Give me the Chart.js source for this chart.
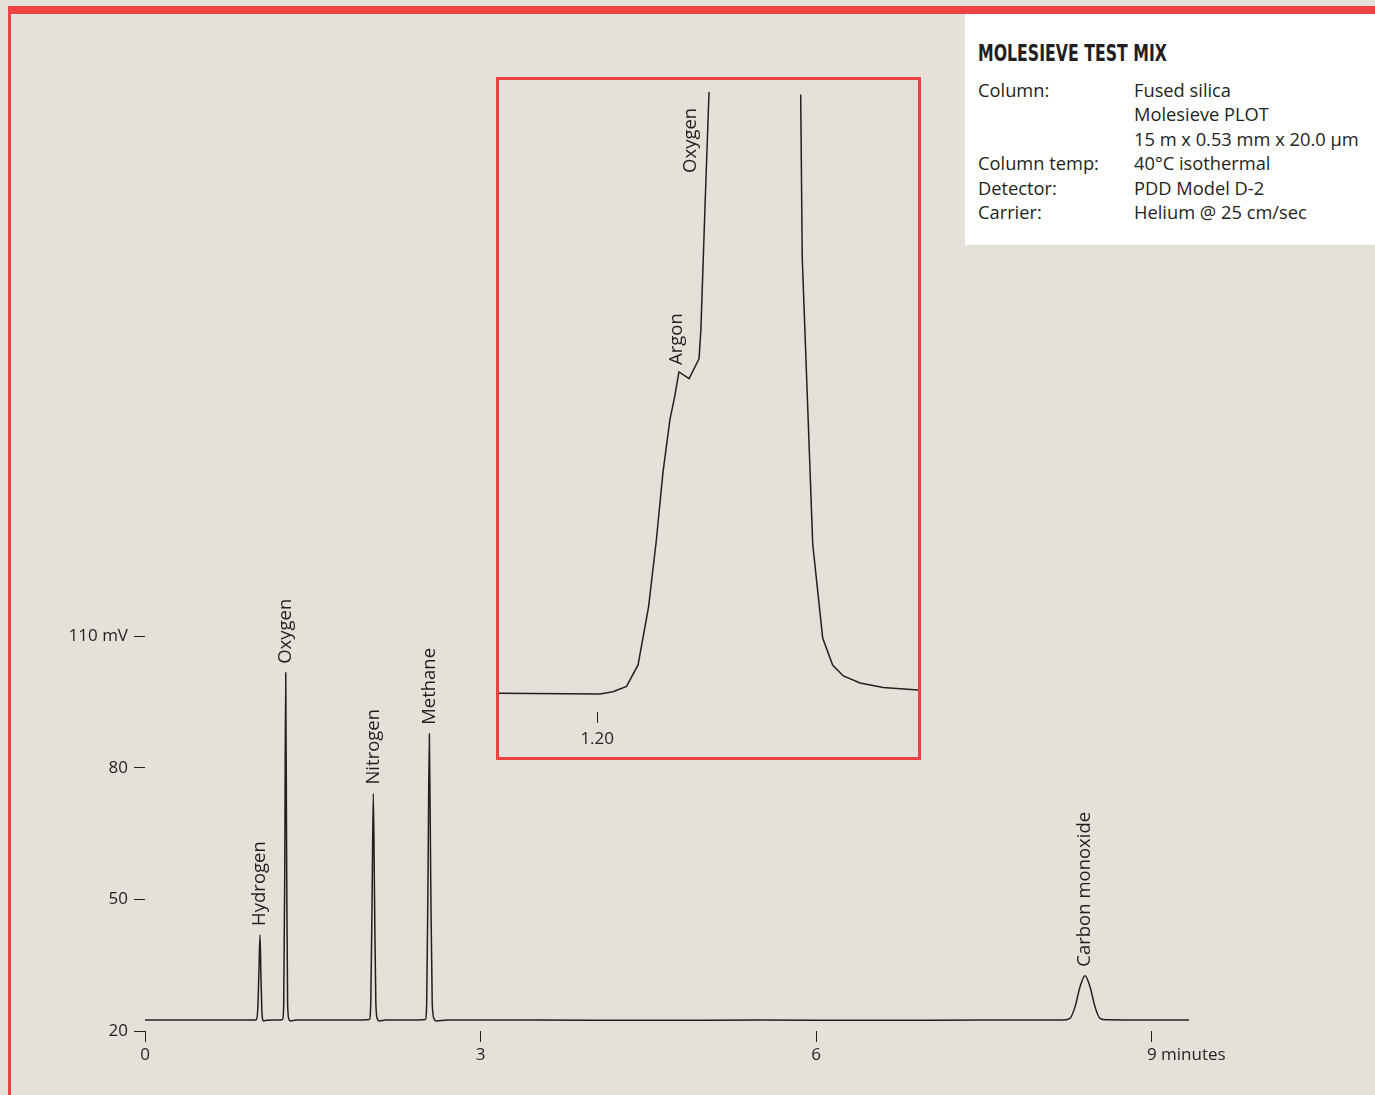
<!DOCTYPE html>
<html>
<head>
<meta charset="utf-8">
<title>Molesieve test mix</title>
<script src="https://cdn.jsdelivr.net/npm/chart.js@4.4.1/dist/chart.umd.min.js"></script>
<style>
  body {
    margin: 0;
    width: 1375px;
    height: 1095px;
    position: relative;
    overflow: hidden;
    background: #e5e1da;
    font-family: "Open Sans", sans-serif;
    color: #231f20;
  }
  .frame-top { position: absolute; left: 8px; top: 6px; width: 1367px; height: 8px; background: #ef4242; }
  .frame-left { position: absolute; left: 8px; top: 6px; width: 3px; height: 1089px; background: #ef4242; }
  #info { position: absolute; left: 965px; top: 14px; width: 410px; height: 231px; background: #fff; }
  #info-title {
    position: absolute; left: 13px; top: 28px;
    font-family: "Liberation Sans Narrow", "DejaVu Sans Condensed", sans-serif;
    font-weight: bold; font-size: 23px; line-height: 23px;
    white-space: nowrap; transform-origin: left center;
  }
  .row { position: absolute; font-size: 18.3px; line-height: 24.4px; white-space: nowrap; }
  #inset-box {
    position: absolute; left: 496px; top: 77px; width: 425px; height: 683px;
    border: 3px solid #ef4242; box-sizing: border-box;
  }
  #mainChart { position: absolute; left: 0; top: 0; }
  #insetChart { position: absolute; left: 499px; top: 80px; }
</style>
</head>
<body>
<div class="frame-top"></div>
<div class="frame-left"></div>

<canvas id="mainChart" width="1375" height="1095"></canvas>

<div id="inset-box"></div>
<canvas id="insetChart" width="419" height="677"></canvas>

<div id="info">
  <div id="info-title">MOLESIEVE TEST MIX</div>
  <div class="row" style="left:13px; top:64px;">Column:<br><br><br>Column temp:<br>Detector:<br>Carrier:</div>
  <div class="row" style="left:169px; top:64px;">Fused silica<br>Molesieve PLOT<br>15 m x 0.53 mm x 20.0 μm<br>40°C isothermal<br>PDD Model D-2<br>Helium @ 25 cm/sec</div>
</div>

<script>
// Main trace: retention time (min) and detector signal (mV)
const timeMin = [
  0, 0.5, 0.98,
  0.995, 1.008, 1.018, 1.028, 1.036, 1.044, 1.052, 1.06, 1.09, 1.15,
  1.20, 1.228, 1.240, 1.250, 1.258, 1.266, 1.275, 1.288, 1.30, 1.35,
  1.95, 2.005, 2.018, 2.030, 2.041, 2.052, 2.064, 2.080, 2.095, 2.15,
  2.45, 2.505, 2.518, 2.530, 2.542, 2.554, 2.568, 2.588, 2.605, 2.70,
  3.5, 4.5, 5.5, 6.5, 7.5, 8.2,
  8.269, 8.314, 8.359, 8.403, 8.448, 8.493, 8.537, 8.597, 9.0, 9.333
];
const signalMv = [
  22.5, 22.5, 22.5,
  22.6, 25, 33, 41.9, 33, 25, 22.6, 22.3, 22.45, 22.5,
  22.5, 22.6, 26, 60, 101.6, 60, 26, 22.6, 22.3, 22.5,
  22.5, 22.6, 26, 50, 74.1, 50, 26, 22.6, 22.3, 22.5,
  22.5, 22.6, 26, 55, 87.7, 55, 26, 22.6, 22.3, 22.5,
  22.5, 22.45, 22.5, 22.45, 22.5, 22.5,
  22.9, 25.5, 30.1, 32.6, 30.1, 25.5, 22.9, 22.55, 22.5, 22.5
];
const peakNames = ['Hydrogen', 'Oxygen', 'Nitrogen', 'Methane', 'Carbon monoxide'];
const peakTimes = [1.028, 1.258, 2.041, 2.542, 8.403];

const xTickValues = [0, 3, 6, 9];
const xTickLabels = ['0', '3', '6', '9 minutes'];
const yTickValues = [20, 50, 80, 110];
const yTickLabels = ['20', '50', '80', '110 mV'];

// Inset: expanded view of the oxygen peak foot (relative signal)
const insetTime = [
  1.1625, 1.2010, 1.2060, 1.2112, 1.2156, 1.2196, 1.2226, 1.2251, 1.2278, 1.2296,
  1.2312, 1.2351, 1.2389, 1.2396, 1.2412, 1.2427,
  1.2600,
  1.2777, 1.2783, 1.2823, 1.2861, 1.2899, 1.2940, 1.3004, 1.3092, 1.3225
];
const insetSignal = [
  2.97, 2.85, 3.20, 4.05, 7.44, 16.61, 27.26, 37.88, 46.36, 49.91,
  53.80, 52.75, 55.93, 60.54, 80.38, 98.10,
  null,
  97.71, 71.84, 26.58, 11.71, 7.44, 5.70, 4.59, 3.89, 3.48
];
const insetTickValues = [1.20];
const insetTickLabels = ['1.20'];
const insetNames = ['Argon', 'Oxygen'];
const insetLabelTimes = [1.2305, 1.2358];
const insetLabelLevels = [54.9, 85.3];

const ink = '#231f20';

document.addEventListener('DOMContentLoaded', function() {
  // squeeze the condensed title to the printed width
  const title = document.getElementById('info-title');
  const w = title.getBoundingClientRect().width;
  title.style.transform = 'scaleX(' + (189 / w) + ')';

  // labels along the x axis and above each peak
  const mainLabels = {
    id: 'mainLabels',
    afterDraw(chart) {
      const ctx = chart.ctx;
      const x = chart.scales.x;
      const y = chart.scales.y;
      ctx.save();
      ctx.fillStyle = ink;
      ctx.font = '17px "Open Sans"';
      ctx.textAlign = 'left';
      ctx.textBaseline = 'middle';
      xTickValues.forEach((v, i) => {
        const px = x.getPixelForValue(v);
        const numW = ctx.measureText(String(v)).width;
        ctx.fillText(xTickLabels[i], px - numW / 2, chart.chartArea.bottom + 24);
      });

      ctx.font = '18.5px "Open Sans"';
      peakNames.forEach((name, i) => {
        let best = 0;
        timeMin.forEach((t, j) => {
          if (Math.abs(t - peakTimes[i]) < Math.abs(timeMin[best] - peakTimes[i])) best = j;
        });
        const px = x.getPixelForValue(timeMin[best]);
        const py = y.getPixelForValue(signalMv[best]);
        ctx.save();
        ctx.translate(px, py - 9);
        ctx.rotate(-Math.PI / 2);
        ctx.fillText(name, 0, 0);
        ctx.restore();
      });
      ctx.restore();
    }
  };

  new Chart(document.getElementById('mainChart'), {
    type: 'line',
    data: {
      datasets: [{
        data: timeMin.map((t, i) => ({ x: t, y: signalMv[i] })),
        borderColor: ink,
        borderWidth: 1.5,
        pointRadius: 0,
        cubicInterpolationMode: 'monotone',
        fill: false
      }]
    },
    options: {
      responsive: false,
      animation: false,
      events: [],
      layout: { padding: { top: 636, right: 186, left: 0, bottom: 0 } },
      plugins: { legend: { display: false }, tooltip: { enabled: false } },
      scales: {
        x: {
          type: 'linear',
          min: 0,
          max: 9.333,
          afterBuildTicks: s => { s.ticks = xTickValues.map(v => ({ value: v })); },
          afterFit: s => { s.height = 64; },
          grid: { drawOnChartArea: false, tickLength: 11, color: ink, lineWidth: 1 },
          border: { display: false },
          ticks: { display: false }
        },
        y: {
          min: 20,
          max: 110,
          afterBuildTicks: s => { s.ticks = yTickValues.map(v => ({ value: v })); },
          afterFit: s => { s.width = 145; },
          grid: { drawOnChartArea: false, tickLength: 11, color: ink, lineWidth: 1 },
          border: { display: false },
          ticks: {
            color: ink,
            padding: 6,
            font: { family: 'Open Sans', size: 17 },
            callback: (v, i) => yTickLabels[i]
          }
        }
      }
    },
    plugins: [mainLabels]
  });

  const insetLabels = {
    id: 'insetLabels',
    afterDraw(chart) {
      const ctx = chart.ctx;
      const x = chart.scales.x;
      const y = chart.scales.y;
      ctx.save();
      ctx.fillStyle = ink;
      ctx.font = '17px "Open Sans"';
      ctx.textAlign = 'center';
      ctx.textBaseline = 'middle';
      insetTickValues.forEach((v, i) => {
        ctx.fillText(insetTickLabels[i], x.getPixelForValue(v), chart.chartArea.bottom + 27);
      });
      ctx.font = '18.5px "Open Sans"';
      ctx.textAlign = 'left';
      insetNames.forEach((name, i) => {
        ctx.save();
        ctx.translate(x.getPixelForValue(insetLabelTimes[i]), y.getPixelForValue(insetLabelLevels[i]));
        ctx.rotate(-Math.PI / 2);
        ctx.fillText(name, 0, 0);
        ctx.restore();
      });
      ctx.restore();
    }
  };

  new Chart(document.getElementById('insetChart'), {
    type: 'line',
    data: {
      datasets: [{
        data: insetTime.map((t, i) => ({ x: t, y: insetSignal[i] })),
        borderColor: ink,
        borderWidth: 1.5,
        pointRadius: 0,
        tension: 0,
        spanGaps: false,
        fill: false
      }]
    },
    options: {
      responsive: false,
      animation: false,
      events: [],
      layout: { padding: 0 },
      plugins: { legend: { display: false }, tooltip: { enabled: false } },
      scales: {
        x: {
          type: 'linear',
          min: 1.1625,
          max: 1.3225,
          afterBuildTicks: s => { s.ticks = insetTickValues.map(v => ({ value: v })); },
          afterFit: s => { s.height = 45; },
          grid: { drawOnChartArea: false, tickLength: 11, color: ink, lineWidth: 1 },
          border: { display: false },
          ticks: { display: false }
        },
        y: { display: false, min: 0, max: 100 }
      }
    },
    plugins: [insetLabels]
  });
});
</script>
</body>
</html>
